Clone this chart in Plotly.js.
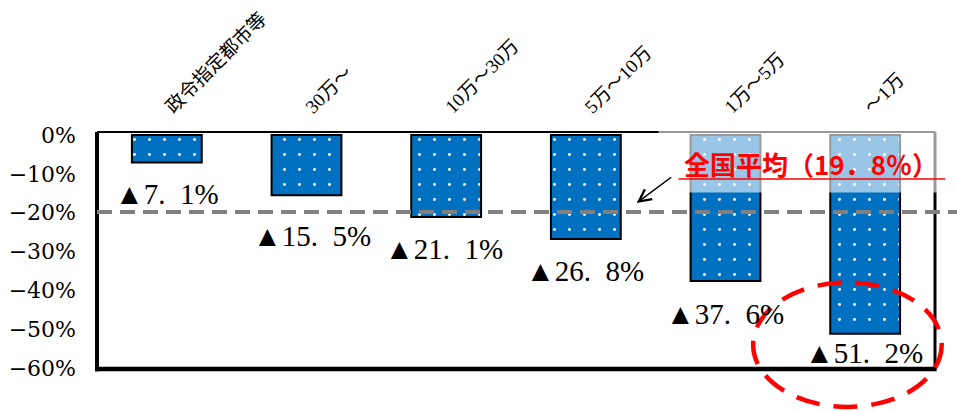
<!DOCTYPE html>
<html>
<head>
<meta charset="utf-8">
<script src="https://cdn.plot.ly/plotly-3.0.1.min.js"></script>
<style>html,body{margin:0;padding:0;background:#fff;}#chart{width:957px;height:411px;}</style>
</head>
<body>
<div id="chart"></div>
<script>
const categories = ["政令指定都市等", "30万～", "10万～30万", "5万～10万", "1万～5万", "～1万"];
const changeRates = [-7.1, -15.5, -21.1, -26.8, -37.6, -51.2];
const valueLabels = ["▲7.\u20021%", "▲15.\u20025%", "▲21.\u20021%", "▲26.\u20028%", "▲37.\u20026%", "▲51.\u20022%"];
const nationalAverage = -19.8;
const averageLabel = "全国平均（19．8％）";
const yTickVals = [0, -10, -20, -30, -40, -50, -60];
const yTickText = ["0%", "−10%", "−20%", "−30%", "−40%", "−50%", "−60%"];

// label placement (pixels below bar end), layout only
const labelDrop = [31, 41, 32, 32, 33, 19];
const labelShiftX = [0, 5, -2, -1, -1, -1];

const serif = "Times New Roman, Liberation Serif, Noto Sans CJK JP";
const serif2 = "DejaVu Serif, Noto Sans CJK JP";

const trace = {
  type: "bar",
  x: categories,
  y: changeRates,
  width: 0.5,
  marker: {
    color: "#0070C0",
    line: {color: "#000000", width: 2},
    pattern: {shape: ".", fgcolor: "#ffffff", bgcolor: "#0070C0", size: 15, solidity: 0.03, fillmode: "replace"}
  },
  hoverinfo: "skip"
};

const annotations = categories.map((c, i) => ({
  x: c, y: changeRates[i], xref: "x", yref: "y",
  text: valueLabels[i], showarrow: false,
  xanchor: "center", yanchor: "middle",
  yshift: -labelDrop[i], xshift: labelShiftX[i],
  font: {family: serif, size: 29, color: "#000000"}
}));

annotations.push({
  xref: "paper", yref: "paper", x: 0.852, y: 0.866,
  text: averageLabel, showarrow: false, xanchor: "center", yanchor: "middle",
  font: {family: "Noto Sans CJK JP, sans-serif", size: 26, color: "#FF0000", weight: "bold"}
});
annotations.push({
  xref: "paper", yref: "paper", x: 0.644, y: 0.700,
  ax: 36, ay: -27, axref: "pixel", ayref: "pixel",
  text: "", showarrow: true, arrowhead: 5, arrowsize: 1.6, arrowwidth: 1.5,
  arrowcolor: "#000000", standoff: 0
});

const shapes = [
  {type: "line", xref: "paper", yref: "paper", x0: 0, x1: 1, y0: 1, y1: 1, line: {color: "#000", width: 2}},
  {type: "line", xref: "paper", yref: "paper", x0: 1, x1: 1, y0: 0, y1: 1, line: {color: "#000", width: 3}},
  {type: "line", xref: "paper", yref: "paper", x0: 0, x1: 0, y0: -0.01, y1: 1, line: {color: "#000", width: 4}},
  {type: "line", xref: "paper", yref: "paper", x0: -0.002, x1: 1.002, y0: 0, y1: 0, line: {color: "#000", width: 4.5}},
  {type: "line", xref: "paper", yref: "y", x0: 0, x1: 1.03, y0: nationalAverage, y1: nationalAverage,
   line: {color: "#808080", width: 4, dash: "15px,8px"}},
  {type: "rect", xref: "paper", yref: "paper", x0: 0.670, x1: 1.03, y0: 0.745, y1: 1.03,
   fillcolor: "rgba(255,255,255,0.6)", line: {width: 0}},
  {type: "line", xref: "paper", yref: "paper", x0: 0.694, x1: 1.012, y0: 0.802, y1: 0.802,
   line: {color: "#FF0000", width: 1.5}},
  {type: "circle", xref: "paper", yref: "paper", x0: 0.783, x1: 1.008, y0: -0.160, y1: 0.365,
   line: {color: "#FF0000", width: 4.5, dash: "24px,14px"}}
];

const layout = {
  width: 957, height: 411,
  margin: {l: 97, r: 22, t: 132, b: 42},
  paper_bgcolor: "#ffffff", plot_bgcolor: "#ffffff",
  showlegend: false,
  xaxis: {
    side: "top", type: "category", range: [-0.5, 5.5],
    showline: false, showgrid: false, zeroline: false, ticks: "",
    tickangle: -45, ticklabelstandoff: 10,
    tickfont: {family: serif, size: 19, color: "#000"}
  },
  yaxis: {
    range: [-60.26, 0.77], showline: false, showgrid: false, zeroline: false,
    tickvals: yTickVals, ticktext: yTickText, ticks: "",
    ticklabelstandoff: 20,
    tickfont: {family: serif2, size: 22, color: "#000"}
  },
  annotations: annotations,
  shapes: shapes
};

Plotly.newPlot("chart", [trace], layout, {displayModeBar: false, staticPlot: true});
</script>
</body>
</html>
